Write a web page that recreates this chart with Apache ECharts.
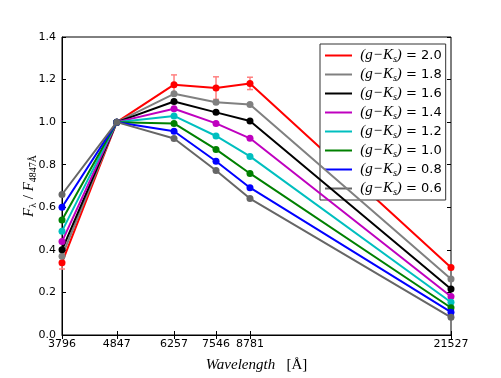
<!DOCTYPE html>
<html>
<head>
<meta charset="utf-8">
<script src="https://cdn.jsdelivr.net/npm/echarts@6/dist/echarts.min.js"></script>
<style>
  html, body { margin: 0; padding: 0; background: #fff; }
  #main { width: 501px; height: 378px; }
</style>
</head>
<body>
<div id="main"></div>
<script>
// wavelengths (Å) on the x axis, log scale
const wavelengths = [3796, 4847, 6257, 7546, 8781, 21527];
const yTicks = [0, 0.2, 0.4, 0.6, 0.8, 1.0, 1.2, 1.4];

// F_lambda / F_4847 for each (g-Ks) colour
const gk20 = [0.34, 1.0, 1.176, 1.160, 1.182, 0.317];
const gk18 = [0.37, 1.0, 1.133, 1.093, 1.083, 0.263];
const gk16 = [0.40, 1.0, 1.097, 1.046, 1.005, 0.216];
const gk14 = [0.439, 1.0, 1.063, 0.994, 0.924, 0.181];
const gk12 = [0.488, 1.0, 1.029, 0.935, 0.839, 0.154];
const gk10 = [0.54, 1.0, 0.994, 0.872, 0.759, 0.128];
const gk08 = [0.60, 1.0, 0.957, 0.816, 0.692, 0.107];
const gk06 = [0.66, 1.0, 0.923, 0.773, 0.641, 0.083];
// error bars only on the (g-Ks)=2.0 curve
const err20 = [0.03, 0, 0.046, 0.053, 0.029, 0];

const labels = ['2.0', '1.8', '1.6', '1.4', '1.2', '1.0', '0.8', '0.6'];
const values = [gk20, gk18, gk16, gk14, gk12, gk10, gk08, gk06];
const colors = ['#ff0000', '#808080', '#000000', '#bf00bf', '#00bfbf', '#008000', '#0000ff', '#666666'];

const chart = echarts.init(document.getElementById('main'));

const logW = wavelengths.map(w => Math.log10(w));
const xMin = logW[0];
const xMax = logW[logW.length - 1];

const mathFont = 'Liberation Serif';
const sansFont = 'DejaVu Sans';

const series = values.map((vals, k) => ({
  name: labels[k],
  type: 'line',
  data: vals.map((v, i) => [logW[i], v]),
  symbol: 'circle',
  symbolSize: 7,
  lineStyle: { width: 2, color: colors[k] },
  itemStyle: { color: colors[k] },
  z: 3 + k
}));

// error bars drawn under the red markers
series.unshift({
  type: 'custom',
  z: 2,
  silent: true,
  data: err20.map((e, i) => [logW[i], gk20[i], e]).filter(d => d[2] > 0),
  renderItem: function (params, api) {
    const x = api.value(0), y = api.value(1), e = api.value(2);
    const lo = api.coord([x, y - e]);
    const hi = api.coord([x, y + e]);
    const style = { stroke: '#ff8080', lineWidth: 1.5 };
    return {
      type: 'group',
      children: [
        { type: 'line', shape: { x1: lo[0], y1: lo[1], x2: hi[0], y2: hi[1] }, style: style },
        { type: 'line', shape: { x1: lo[0] - 3, y1: lo[1], x2: lo[0] + 3, y2: lo[1] }, style: style },
        { type: 'line', shape: { x1: hi[0] - 3, y1: hi[1], x2: hi[0] + 3, y2: hi[1] }, style: style }
      ]
    };
  }
});

const tickStyle = { show: true, inside: true, length: 4, lineStyle: { color: '#000', width: 1 } };

const option = {
  animation: false,
  backgroundColor: '#fff',
  grid: {
    left: 62, right: 50, top: 37, bottom: 39,
    show: true, borderColor: '#000', borderWidth: 1, backgroundColor: 'transparent'
  },
  legend: {
    orient: 'vertical',
    left: 320,
    top: 44,
    padding: [2, 4, 2, 5],
    backgroundColor: '#fff',
    borderColor: '#333',
    borderWidth: 1,
    borderRadius: 0,
    itemGap: 0,
    itemWidth: 27,
    itemHeight: 2,
    icon: 'rect',
    data: labels.map(l => ({ name: l })),
    formatter: function (name) {
      return ' {p|(}{i|g}{p|\u2212}{i|K}{s|s}{p|)}{n| = ' + name + '}';
    },
    textStyle: {
      color: '#000',
      lineHeight: 19,
      rich: {
        p: { fontFamily: mathFont, fontSize: 15, fontStyle: 'italic', color: '#000' },
        i: { fontFamily: mathFont, fontSize: 15, fontStyle: 'italic', color: '#000' },
        s: { fontFamily: mathFont, fontSize: 10, fontStyle: 'italic', color: '#000', padding: [7, 0, 0, 0] },
        n: { fontFamily: sansFont, fontSize: 13, color: '#000' }
      }
    }
  },
  xAxis: [
    {
      type: 'value',
      min: xMin,
      max: xMax,
      name: '{i|Wavelength}{n|   [Å]}',
      nameLocation: 'middle',
      nameGap: 23,
      nameTextStyle: {
        rich: {
          i: { fontFamily: mathFont, fontStyle: 'italic', fontSize: 15, color: '#000' },
          n: { fontFamily: mathFont, fontSize: 15, color: '#000' }
        }
      },
      axisLine: { show: true, lineStyle: { color: '#000' } },
      axisTick: Object.assign({ customValues: logW }, tickStyle),
      axisLabel: {
        customValues: logW,
        formatter: v => String(Math.round(Math.pow(10, v))),
        color: '#000',
        fontFamily: sansFont,
        fontSize: 11,
        margin: 4
      },
      splitLine: { show: false }
    },
    {
      type: 'value',
      position: 'top',
      min: xMin,
      max: xMax,
      axisLine: { show: false },
      axisTick: Object.assign({ customValues: logW }, tickStyle),
      axisLabel: { show: false },
      splitLine: { show: false }
    }
  ],
  yAxis: [
    {
      type: 'value',
      min: 0,
      max: 1.4,
      interval: 0.2,
      name: '{i|F}{s|λ}{n| / }{i|F}{s|4847Å}',
      nameLocation: 'middle',
      nameGap: 24,
      nameMoveOverlap: false,
      nameTextStyle: {
        rich: {
          i: { fontFamily: mathFont, fontStyle: 'italic', fontSize: 15, color: '#000' },
          s: { fontFamily: mathFont, fontSize: 10, color: '#000', padding: [7, 0, 0, 0] },
          n: { fontFamily: mathFont, fontSize: 15, color: '#000' }
        }
      },
      axisLine: { show: true, lineStyle: { color: '#000' } },
      axisTick: tickStyle,
      axisLabel: {
        formatter: v => v.toFixed(1),
        color: '#000',
        fontFamily: sansFont,
        fontSize: 11,
        margin: 6
      },
      splitLine: { show: false }
    },
    {
      type: 'value',
      position: 'right',
      min: 0,
      max: 1.4,
      interval: 0.2,
      axisLine: { show: false },
      axisTick: tickStyle,
      axisLabel: { show: false },
      splitLine: { show: false }
    }
  ],
  series: series
};
chart.setOption(option);
</script>
</body>
</html>
